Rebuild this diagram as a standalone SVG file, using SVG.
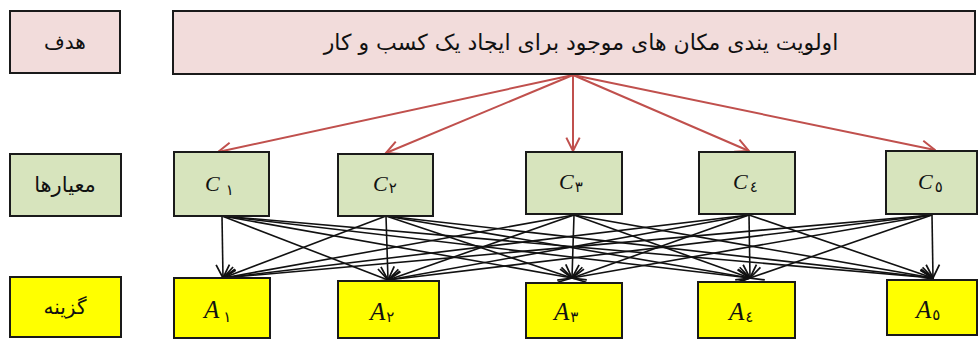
<svg xmlns="http://www.w3.org/2000/svg" width="979" height="339" viewBox="0 0 979 339">
<style>
.box{stroke:#1a1a1a;stroke-width:2}
.goal{fill:#f2dcdb}
.crit{fill:#d7e4bd}
.alt{fill:#ffff00}
.fa{font-family:"DejaVu Sans","Noto Sans",sans-serif;fill:#111;text-anchor:middle;dominant-baseline:central}
.lbl{font-family:"Liberation Serif",serif;font-style:italic;fill:#111}
.sub{font-family:"DejaVu Sans",sans-serif;font-style:normal}
.red{stroke:#c0504d;stroke-width:2;fill:none}
.blk{stroke:#111;stroke-width:1.6;fill:none}
</style>
<defs>
<marker id="ar" viewBox="0 0 12 12" refX="11" refY="6" markerWidth="16" markerHeight="16" markerUnits="userSpaceOnUse" orient="auto">
<path d="M1,1 L11,6 L1,11" fill="none" stroke="#c0504d" stroke-width="1.5"/>
</marker>
<marker id="ab" viewBox="0 0 12 12" refX="11" refY="6" markerWidth="16" markerHeight="16" markerUnits="userSpaceOnUse" orient="auto">
<path d="M1,1 L11,6 L1,11" fill="none" stroke="#111" stroke-width="1.3"/>
</marker>
</defs>
<g id="connectors">
<g class="red">
<line x1="573" y1="75" x2="218" y2="152" marker-end="url(#ar)"/>
<line x1="573" y1="75" x2="386" y2="153" marker-end="url(#ar)"/>
<line x1="573" y1="75" x2="573" y2="151" marker-end="url(#ar)"/>
<line x1="573" y1="75" x2="749" y2="151" marker-end="url(#ar)"/>
<line x1="573" y1="75" x2="935" y2="150" marker-end="url(#ar)"/>
</g>
<g class="blk">
<line x1="222" y1="216" x2="223" y2="278" marker-end="url(#ab)"/>
<line x1="222" y1="216" x2="388" y2="280" marker-end="url(#ab)"/>
<line x1="222" y1="216" x2="572" y2="278" marker-end="url(#ab)"/>
<line x1="222" y1="216" x2="750" y2="278" marker-end="url(#ab)"/>
<line x1="222" y1="216" x2="933" y2="278" marker-end="url(#ab)"/>
<line x1="386" y1="216" x2="223" y2="278" marker-end="url(#ab)"/>
<line x1="386" y1="216" x2="388" y2="280" marker-end="url(#ab)"/>
<line x1="386" y1="216" x2="572" y2="278" marker-end="url(#ab)"/>
<line x1="386" y1="216" x2="750" y2="278" marker-end="url(#ab)"/>
<line x1="386" y1="216" x2="933" y2="278" marker-end="url(#ab)"/>
<line x1="574" y1="215" x2="223" y2="278" marker-end="url(#ab)"/>
<line x1="574" y1="215" x2="388" y2="280" marker-end="url(#ab)"/>
<line x1="574" y1="215" x2="572" y2="278" marker-end="url(#ab)"/>
<line x1="574" y1="215" x2="750" y2="278" marker-end="url(#ab)"/>
<line x1="574" y1="215" x2="933" y2="278" marker-end="url(#ab)"/>
<line x1="749" y1="215" x2="223" y2="278" marker-end="url(#ab)"/>
<line x1="749" y1="215" x2="388" y2="280" marker-end="url(#ab)"/>
<line x1="749" y1="215" x2="572" y2="278" marker-end="url(#ab)"/>
<line x1="749" y1="215" x2="750" y2="278" marker-end="url(#ab)"/>
<line x1="749" y1="215" x2="933" y2="278" marker-end="url(#ab)"/>
<line x1="932" y1="215" x2="223" y2="278" marker-end="url(#ab)"/>
<line x1="932" y1="215" x2="388" y2="280" marker-end="url(#ab)"/>
<line x1="932" y1="215" x2="572" y2="278" marker-end="url(#ab)"/>
<line x1="932" y1="215" x2="750" y2="278" marker-end="url(#ab)"/>
<line x1="932" y1="215" x2="933" y2="278" marker-end="url(#ab)"/>
</g>
</g>
<g id="label-goal"><rect class="box goal" x="10" y="11" width="110" height="62"/><text class="fa" x="65" y="42" font-size="20">هدف</text></g>
<g id="goal"><rect class="box goal" x="173" y="11" width="802" height="63"/><text class="fa" x="581" y="42" font-size="22">اولویت یندی مکان های موجود برای ایجاد یک کسب و کار</text></g>
<g id="label-criteria"><rect class="box crit" x="10" y="154" width="111" height="62"/><text class="fa" x="65" y="185" font-size="21">معیارها</text></g>
<g id="C1"><rect class="box crit" x="174" y="152" width="95" height="64"/><text class="lbl" x="205" y="191" font-size="22">C<tspan class="sub" font-size="15" dx="6" dy="4">١</tspan></text></g>
<g id="C2"><rect class="box crit" x="338" y="154" width="95" height="62"/><text class="lbl" x="373" y="191" font-size="22">C<tspan class="sub" font-size="15" dx="1" dy="2">٢</tspan></text></g>
<g id="C3"><rect class="box crit" x="526" y="152" width="96" height="62"/><text class="lbl" x="559" y="189" font-size="22">C<tspan class="sub" font-size="15" dx="1" dy="3">٣</tspan></text></g>
<g id="C4"><rect class="box crit" x="699" y="152" width="96" height="62"/><text class="lbl" x="733" y="189" font-size="22">C<tspan class="sub" font-size="15" dx="2" dy="3">٤</tspan></text></g>
<g id="C5"><rect class="box crit" x="886" y="151" width="91" height="63"/><text class="lbl" x="918" y="189" font-size="22">C<tspan class="sub" font-size="15" dx="2" dy="3">٥</tspan></text></g>
<g id="label-alt"><rect class="box alt" x="10" y="277" width="111" height="60"/><text class="fa" x="65" y="307" font-size="20">گزینه</text></g>
<g id="A1"><rect class="box alt" x="174" y="278" width="96" height="60"/><text class="lbl" x="204" y="318" font-size="25">A<tspan class="sub" font-size="15" dx="4" dy="4">١</tspan></text></g>
<g id="A2"><rect class="box alt" x="338" y="281" width="101" height="57"/><text class="lbl" x="370" y="320" font-size="25">A<tspan class="sub" font-size="15" dx="1" dy="2">٢</tspan></text></g>
<g id="A3"><rect class="box alt" x="526" y="283" width="96" height="55"/><text class="lbl" x="554" y="320" font-size="25">A<tspan class="sub" font-size="15" dx="1" dy="2">٣</tspan></text></g>
<g id="A4"><rect class="box alt" x="698" y="282" width="97" height="56"/><text class="lbl" x="729" y="320" font-size="25">A<tspan class="sub" font-size="15" dx="1" dy="2">٤</tspan></text></g>
<g id="A5"><rect class="box alt" x="887" y="280" width="90" height="55"/><text class="lbl" x="916" y="318" font-size="25">A<tspan class="sub" font-size="15" dx="1" dy="2">٥</tspan></text></g>
</svg>
